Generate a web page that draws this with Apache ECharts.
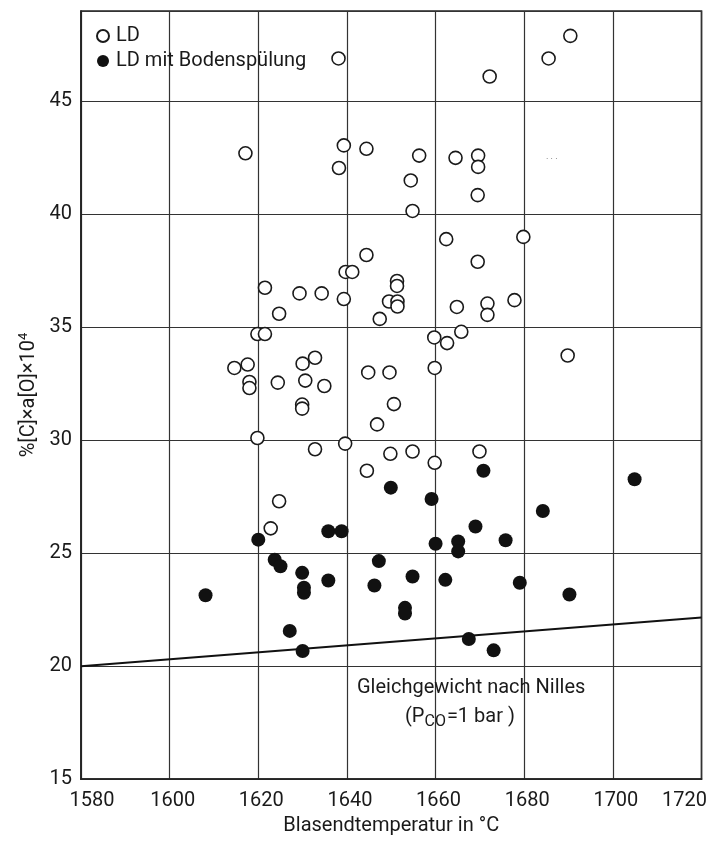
<!DOCTYPE html>
<html>
<head>
<meta charset="utf-8">
<script src="https://cdn.jsdelivr.net/npm/echarts@6/dist/echarts.min.js"></script>
<style>
html,body{margin:0;padding:0;background:#fff;overflow:hidden;width:710px;height:841px;}
#c{width:710px;height:841px;display:block;}
</style>
</head>
<body>
<div id="c"></div>
<script>
// ---- data ----
var xTicks = [1580, 1600, 1620, 1640, 1660, 1680, 1700, 1720];
var yTicks = [15, 20, 25, 30, 35, 40, 45];

var seriesNames = ['LD', 'LD mit Bodenspülung'];

// LD (open circles)
var ldTemp = [1638.1,1672.2,1685.5,1690.4,1617.1,1639.3,1638.2,1644.4,1656.3,1654.4,
  1654.8,1664.5,1669.6,1669.6,1669.5,1662.4,1679.8,1669.5,1644.4,1639.7,
  1641.2,1651.3,1651.3,1649.5,1651.4,1651.4,1647.4,1621.5,1629.3,1634.3,
  1639.3,1624.7,1619.8,1621.5,1614.6,1617.6,1618.0,1618.0,1624.4,1630.0,
  1632.8,1630.6,1634.9,1629.9,1629.9,1619.8,1639.6,1632.8,1624.7,1622.8,
  1664.8,1671.7,1671.7,1677.8,1659.7,1662.6,1665.8,1689.8,1644.8,1649.6,
  1659.8,1650.6,1646.8,1649.8,1654.8,1659.8,1644.5,1669.9];
var ldValue = [46.9,46.1,46.9,47.9,42.7,43.05,42.05,42.9,42.6,41.5,
  40.15,42.5,42.6,42.1,40.85,38.9,39.0,37.9,38.2,37.45,
  37.45,37.05,36.83,36.14,36.14,35.92,35.37,36.75,36.5,36.5,
  36.25,35.6,34.7,34.7,33.2,33.35,32.58,32.31,32.55,33.39,
  33.65,32.64,32.4,31.58,31.4,30.1,29.85,29.6,27.3,26.1,
  35.9,36.05,35.55,36.2,34.55,34.3,34.8,33.75,33.0,33.0,
  33.2,31.6,30.7,29.4,29.5,29.0,28.65,29.5];

// LD mit Bodenspülung (filled circles)
var bsTemp = [1670.8,1704.9,1649.9,1659.1,1684.2,1669.0,1675.8,1660.0,1665.1,1665.1,
  1647.2,1620.0,1635.8,1638.8,1608.1,1623.7,1625.0,1629.9,1630.3,1630.3,
  1635.8,1627.1,1630.0,1646.2,1654.8,1653.1,1653.1,1662.2,1679.0,1690.2,
  1667.5,1673.1];
var bsValue = [28.65,28.27,27.9,27.4,26.87,26.18,25.57,25.42,25.52,25.08,
  24.65,25.6,25.97,25.97,23.14,24.71,24.42,24.13,23.47,23.25,
  23.79,21.56,20.67,23.57,23.97,22.58,22.33,23.82,23.69,23.17,
  21.2,20.7];

// Gleichgewicht nach Nilles
var nillesTemp = [1580, 1720];
var nillesValue = [20.0, 22.15];

// ---- chart ----
var FONT = "Roboto, 'Noto Sans', sans-serif";
var INK = '#1a1a1a';
function zip(a, b) { return a.map(function (v, i) { return [v, b[i]]; }); }

var chart = echarts.init(document.getElementById('c'), null, {renderer: 'canvas', width: 710, height: 841});
var option = {
  backgroundColor: '#ffffff',
  animation: false,
  textStyle: {fontFamily: FONT, color: INK},
  grid: {left: 81, right: 2, top: 11, bottom: 59, show: true, borderColor: '#222', borderWidth: 1.6, containLabel: false},
  legend: {
    data: seriesNames,
    orient: 'vertical',
    left: 91, top: 21,
    itemWidth: 12, itemHeight: 12, itemGap: 5,
    textStyle: {fontFamily: FONT, fontSize: 20, color: INK, padding: [0, 0, 0, 2]}
  },
  xAxis: {
    type: 'value', min: 1580, max: 1720, interval: 20,
    name: 'Blasendtemperatur in °C', nameLocation: 'middle', nameGap: 35,
    nameTextStyle: {fontFamily: FONT, fontSize: 20, color: INK, verticalAlign: 'top'},
    axisLine: {show: true, lineStyle: {color: '#222', width: 1.6}},
    axisTick: {show: false},
    splitLine: {show: true, lineStyle: {color: '#333', width: 1.2}},
    axisLabel: {
      fontFamily: FONT, fontSize: 20, color: INK, margin: 12,
      formatter: function (v) {
        if (v === xTicks[0]) return '{l|' + v + '}';
        if (v === xTicks[xTicks.length - 1]) return '{r|' + v + '}';
        return '{m|' + v + '}';
      },
      rich: {
        l: {fontFamily: FONT, fontSize: 20, color: INK, padding: [0, 0, 0, 22]},
        r: {fontFamily: FONT, fontSize: 20, color: INK, padding: [0, 34, 0, 0]},
        m: {fontFamily: FONT, fontSize: 20, color: INK, padding: [0, 0, 0, 6]}
      }
    }
  },
  yAxis: {
    type: 'value', min: 15, max: 49, interval: 5,
    name: '%[C]×a[O]×10{sup|4}', nameLocation: 'middle', nameGap: 38, nameRotate: 90,
    nameTextStyle: {fontFamily: FONT, fontSize: 20, color: INK,
      rich: {sup: {fontFamily: FONT, fontSize: 13, color: INK, verticalAlign: 'top', padding: [0, 0, 10, 0]}}},
    axisLine: {show: true, lineStyle: {color: '#222', width: 1.6}},
    axisTick: {show: false},
    splitLine: {show: true, lineStyle: {color: '#333', width: 1.2}},
    axisLabel: {fontFamily: FONT, fontSize: 20, color: INK, margin: 9, showMaxLabel: false,
      formatter: function (v) { return yTicks.indexOf(v) >= 0 ? String(v) : ''; }}
  },
  series: [
    {
      name: seriesNames[0], type: 'scatter', symbol: 'circle', symbolSize: 13,
      itemStyle: {color: '#ffffff', borderColor: '#1a1a1a', borderWidth: 1.6, opacity: 1},
      data: zip(ldTemp, ldValue), z: 3
    },
    {
      name: seriesNames[1], type: 'scatter', symbol: 'circle', symbolSize: 14,
      itemStyle: {color: '#111111', borderColor: '#111111', borderWidth: 0, opacity: 1},
      data: zip(bsTemp, bsValue), z: 4
    },
    {
      name: 'Nilles', type: 'line', showSymbol: false, symbol: 'none',
      lineStyle: {color: '#111', width: 2},
      data: zip(nillesTemp, nillesValue), z: 2
    }
  ],
  graphic: [
    {type: 'text', x: 357, y: 688, z: 10,
      style: {text: 'Gleichgewicht nach Nilles', font: '20px ' + FONT, fill: INK, verticalAlign: 'middle', align: 'left'}},
    {type: 'text', x: 405, y: 717, z: 10,
      style: {text: '(P{sub|CO}=1 bar )', font: '20px ' + FONT, fill: INK, verticalAlign: 'middle', align: 'left',
        rich: {sub: {fontSize: 16, fontFamily: FONT, fill: INK, padding: [10, 1, 0, 0]}}}},
    {type: 'text', x: 546, y: 160, z: 10,
      style: {text: '· · ·', font: '9px ' + FONT, fill: '#666', verticalAlign: 'middle'}}
  ]
};
chart.setOption(option);
</script>
</body>
</html>
